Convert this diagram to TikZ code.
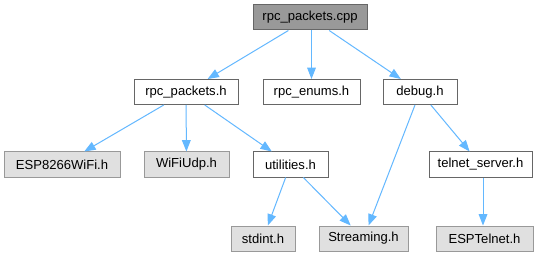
\documentclass[tikz,border=0pt]{standalone}
\usepackage{fontspec}
\setmainfont{Liberation Sans}
\usetikzlibrary{arrows.meta}
\definecolor{edgeblue}{HTML}{63B8FF}
\definecolor{rootfill}{HTML}{999999}
\definecolor{darkborder}{HTML}{666666}
\definecolor{extfill}{HTML}{E0E0E0}
\definecolor{extborder}{HTML}{999999}
\begin{document}
\begin{tikzpicture}[x=0.75pt,y=-0.75pt,
  filebox/.style={draw=darkborder,fill=white,line width=0.75pt,minimum height=18.75pt,
    inner sep=0pt,font=\fontsize{9.8}{12}\selectfont},
  rootbox/.style={filebox,fill=rootfill},
  extbox/.style={filebox,draw=extborder,fill=extfill},
  dep/.style={draw=edgeblue,line width=0.75pt,-{Triangle[length=8.5pt,width=6.5pt]}}]
\useasboundingbox (0,0) rectangle (541,256);
\fill[white] (0,0) rectangle (541,256);

% files
\node[rootbox,minimum width=85.5pt] (cpp) at (310,17.5) {rpc\_packets.cpp};
\node[filebox,minimum width=78pt] (rph) at (186,92) {rpc\_packets.h};
\node[filebox,minimum width=72.75pt] (enums) at (311.5,92) {rpc\_enums.h};
\node[filebox,minimum width=55.5pt] (debug) at (420,92) {debug.h};
\node[extbox,minimum width=87pt] (esp) at (62,164.5) {ESP8266WiFi.h};
\node[extbox,minimum width=63.75pt] (udp) at (186.5,164.5) {WiFiUdp.h};
\node[filebox,minimum width=56.25pt] (util) at (290.5,164.5) {utilities.h};
\node[filebox,minimum width=77.25pt] (telnet) at (480.5,164.5) {telnet\_server.h};
\node[extbox,minimum width=48pt] (stdint) at (263,238.5) {stdint.h};
\node[extbox,minimum width=66.75pt] (stream) at (363.5,238.5) {Streaming.h};
\node[extbox,minimum width=72.75pt] (esptel) at (484.5,238.5) {ESPTelnet.h};

% column shared by the telnet_server.h -> ESPTelnet.h edge
\coordinate (telcol) at (483,0);

% include edges
\draw[dep] (cpp) -- (rph);
\draw[dep] (cpp.south -| enums.north) -- (enums);
\draw[dep] (cpp) -- (debug);
\draw[dep] (rph) -- (esp);
\draw[dep] (rph) -- (udp);
\draw[dep] (rph) -- (util);
\draw[dep] (util) -- (stdint);
\draw[dep] (util) -- (stream);
\draw[dep] (debug) -- (stream);
\draw[dep] (debug) -- (telnet);
\draw[dep] (telnet.south -| telcol) -- (esptel.north -| telcol);
\end{tikzpicture}
\end{document}
